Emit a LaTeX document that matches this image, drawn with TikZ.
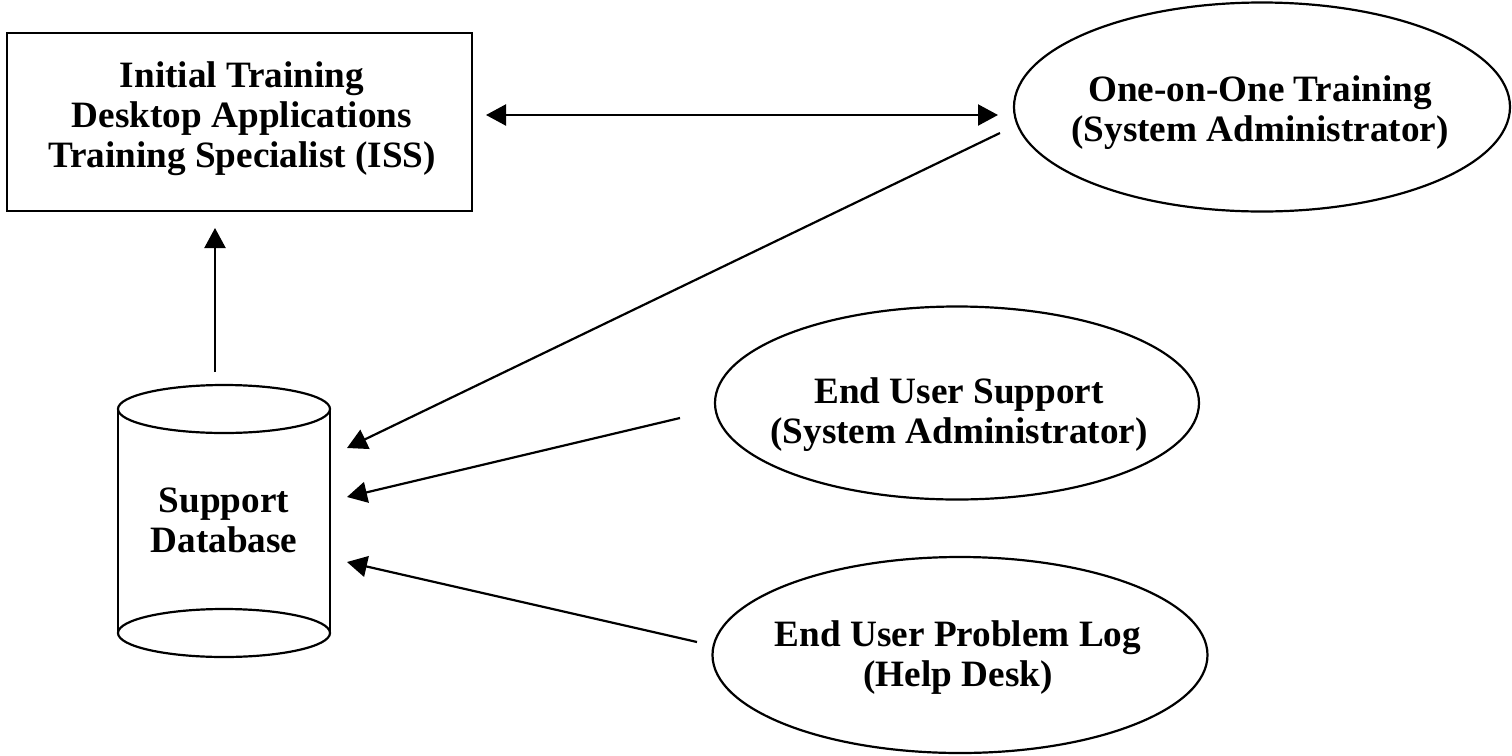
\documentclass[tikz,border=0pt]{standalone}
\usepackage{fontspec}
\setmainfont{Liberation Serif}
\usetikzlibrary{arrows.meta,shapes.geometric}
\begin{document}
\begin{tikzpicture}[x=0.5pt,y=-0.5pt,
  line width=1.1pt,
  lbl/.style={font=\bfseries\fontsize{18.6}{20}\selectfont, align=center, inner sep=0pt},
  oval/.style={draw, ellipse, line width=1.1pt},
  arr/.style={-{Triangle[length=10pt,width=10.5pt]}, line width=1.1pt},
  darr/.style={{Triangle[length=10pt,width=10.5pt]}-{Triangle[length=10pt,width=10.5pt]}, line width=1.1pt}
]
\useasboundingbox (0,0) rectangle (1512,756);

% Initial training box
\node[draw, line width=1.1pt, minimum width=232.5pt, minimum height=89pt, inner sep=0pt] (box) at (239.5,122) {};
\node[lbl] (boxtxt) at (242,119) {Initial Training\\Desktop Applications\\Training Specialist (ISS)};

% Ellipses
\node[oval, minimum width=248pt, minimum height=104.5pt, inner sep=0pt] (one) at (1262,107) {};
\node[lbl] (onetxt) at (1260,113) {One-on-One Training\\(System Administrator)};

\node[oval, minimum width=242pt, minimum height=96.5pt, inner sep=0pt] (eus) at (957,403) {};
\node[lbl] (eustxt) at (959,415) {End User Support\\(System Administrator)};

\node[oval, minimum width=247.5pt, minimum height=98pt, inner sep=0pt] (log) at (960,655) {};
\node[lbl] (logtxt) at (958,658) {End User Problem Log\\(Help Desk)};

% Cylinder (Support Database)
\draw (224,409) ellipse [x radius=106, y radius=24];
\draw (118,409) -- (118,633);
\draw (330,409) -- (330,633);
\draw (224,633) ellipse [x radius=106, y radius=24];
\node[lbl] (db) at (224,520) {Support\\Database};

% connector end points
\coordinate (vtail) at (215,372);
\coordinate (vtip) at (215,228);
\coordinate (dl) at (486,115);
\coordinate (dr) at (998,115);
\coordinate (t1) at (1000,133);
\coordinate (h1) at (347,448);
\coordinate (t2) at (680,418);
\coordinate (h2) at (347,497);
\coordinate (t3) at (697,642);
\coordinate (h3) at (347,562);

\draw[arr] (vtail) -- (vtip);
\draw[darr] (dl) -- (dr);
\draw[arr] (t1) -- (h1);
\draw[arr] (t2) -- (h2);
\draw[arr] (t3) -- (h3);
\end{tikzpicture}
\end{document}
